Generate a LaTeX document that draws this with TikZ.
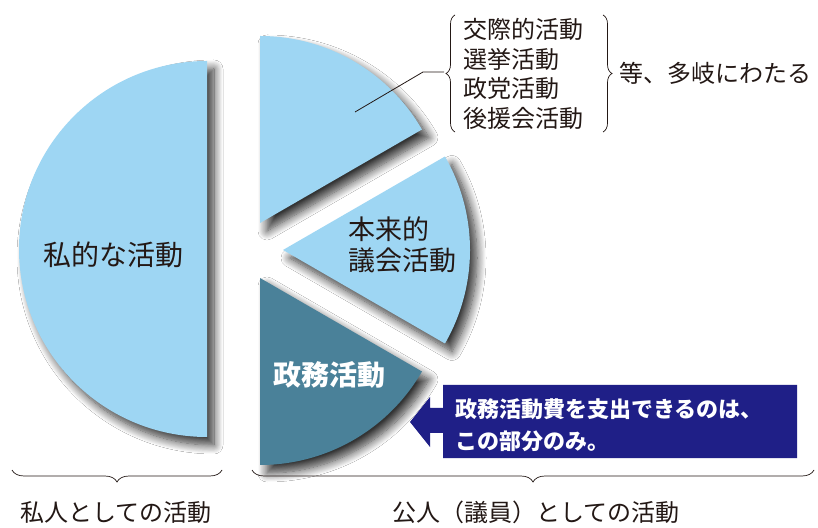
\documentclass[tikz,border=0pt]{standalone}
\usepackage{fontspec}
\setmainfont{Noto Sans CJK JP}
\usetikzlibrary{shadows.blur,decorations.pathreplacing}
\definecolor{paleblue}{RGB}{158,214,243}
\definecolor{tealblue}{RGB}{74,129,153}
\definecolor{navy}{RGB}{31,31,135}
\definecolor{ink}{RGB}{35,24,21}
\tikzset{
  slice/.style={fill=paleblue,blur shadow={shadow xshift=7pt,shadow yshift=-8pt,shadow blur radius=9pt,shadow blur steps=12,shadow opacity=80}},
  brc/.style={decorate,decoration={brace,amplitude=#1},draw=ink,line width=0.7pt},
  lbl/.style={text=ink,inner sep=0pt,font=\fontsize{24}{29.5}\selectfont}
}

\begin{document}
\begin{tikzpicture}[x=1pt,y=1pt]
    \useasboundingbox[fill=white] (0,0) rectangle (818,527);
    % pie pieces
    \fill[slice] (207,466) arc (90:270:188) -- cycle;
    \fill[slice] (260,304) -- (260,491) arc (90:30:187) -- cycle;
    \fill[slice] (283,277) -- ++(30:187) arc (30:-30:187) -- cycle;
    \fill[slice,fill=tealblue] (260,249) -- ++(-30:187) arc (-30:-90:187) -- cycle;
    % labels in the pieces
    \node[lbl,font=\fontsize{28}{32}\selectfont] (private) at (113,272) {私的な活動};
    \node[lbl,anchor=west,align=left,font=\fontsize{27}{31}\selectfont] (council) at (348,282) {本来的\\議会活動};
    \node[lbl,text=white,font=\fontsize{28}{32}\selectfont\bfseries] (seimu) at (329,152) {政務活動};
    % callout
    \fill[navy] (443,142) -- (797,142) -- (797,69) -- (443,69) -- (443,94) -- (430,94)
      -- (430,80) -- (410,105) -- (430,130) -- (430,119) -- (443,119) -- cycle;
    \node[lbl,text=white,anchor=west,align=left,font=\fontsize{22}{32}\selectfont\bfseries] (note) at (455,102)
      {政務活動費を支出できるのは、\\この部分のみ。};
    % list at top right
    \node[lbl,anchor=west,align=left] (list) at (463,453) {交際的活動\\選挙活動\\政党活動\\後援会活動};
    \draw[brc=9pt] (455,395) -- (455,512);
    \draw[brc=9pt] (603,512) -- (603,395);
    \node[lbl,anchor=west] (many) at (619,454) {等、多岐にわたる};
    \coordinate (lead) at (355,415);
    \coordinate (brtip) at (444,455);
    \draw[ink,line width=0.8pt] (lead) -- (423,455) -- (brtip);
    % braces at the bottom
    \draw[brc=12pt,decoration={mirror}] (12,57) -- (222,57);
    \draw[brc=12pt,decoration={mirror}] (252,57) -- (814,57);
    \node[lbl] (privlbl) at (116,15) {私人としての活動};
    \node[lbl] (publbl) at (536,15) {公人（議員）としての活動};
\end{tikzpicture}
\end{document}
